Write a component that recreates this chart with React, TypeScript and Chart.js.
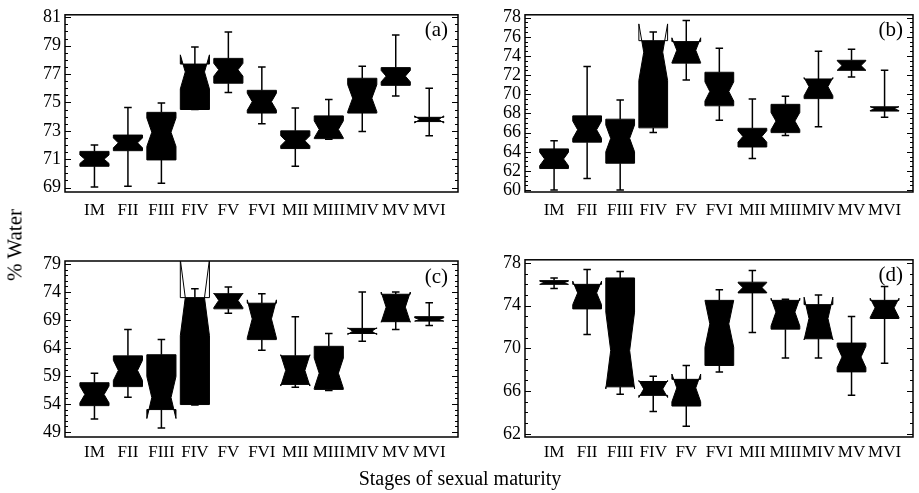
import React, { useEffect, useRef } from 'react';
import { Chart, registerables } from 'chart.js';

Chart.register(...registerables);

const FONT = "'Liberation Serif', 'DejaVu Serif', serif";

const categories = ['IM', 'FII', 'FIII', 'FIV', 'FV', 'FVI', 'MII', 'MIII', 'MIV', 'MV', 'MVI'];

// Panel (a)
const aWhiskerLow = [69.05, 69.1, 69.3, 74.5, 75.7, 73.5, 70.5, 72.4, 72.95, 75.45, 72.65];
const aQ1 = [70.5, 71.6, 70.95, 74.5, 76.35, 74.25, 71.75, 72.45, 74.25, 76.2, 73.65];
const aMedian = [71.0, 72.15, 72.9, 77.15, 77.3, 75.05, 72.3, 73.1, 75.3, 76.85, 73.8];
const aQ3 = [71.55, 72.7, 74.3, 77.7, 78.1, 75.85, 73.0, 74.05, 76.7, 77.45, 73.95];
const aWhiskerHigh = [72.0, 74.65, 74.95, 78.9, 79.95, 77.5, 74.6, 75.2, 77.55, 79.75, 76.0];
const aNotch = [0.3, 0.35, 1.0, 1.2, 0.45, 0.6, 0.35, 0.6, 0.95, 0.4, 0.25];
const aTicks = [69, 71, 73, 75, 77, 79, 81];

// Panel (b)
const bWhiskerLow = [60.0, 61.2, 60.0, 66.0, 71.5, 67.3, 63.3, 65.7, 66.6, 71.8, 67.6];
const bQ1 = [62.25, 65.0, 62.8, 66.5, 73.25, 68.8, 64.5, 66.0, 69.55, 72.5, 68.25];
const bMedian = [63.25, 66.3, 65.4, 74.4, 74.6, 70.3, 65.6, 67.2, 70.8, 73.0, 68.5];
const bQ3 = [64.3, 67.75, 67.4, 75.6, 75.5, 72.3, 66.45, 68.95, 71.6, 73.55, 68.7];
const bWhiskerHigh = [65.15, 72.9, 69.4, 76.5, 77.7, 74.8, 69.5, 69.8, 74.5, 74.7, 72.5];
const bNotch = [0.7, 0.9, 1.4, 2.95, 1.3, 1.0, 0.6, 0.9, 0.95, 0.5, 0.2];
const bTicks = [60, 62, 64, 66, 68, 70, 72, 74, 76, 78];

// Panel (c)
const cWhiskerLow = [51.3, 55.2, 49.7, 53.8, 70.2, 63.6, 57.0, 56.4, 65.2, 67.3, 68.0];
const cQ1 = [53.7, 57.1, 53.0, 53.9, 71.0, 65.5, 57.5, 56.6, 66.6, 68.7, 68.8];
const cMedian = [55.7, 60.0, 55.15, 73.0, 72.5, 69.2, 60.0, 59.5, 67.0, 71.3, 69.1];
const cQ3 = [57.8, 62.6, 62.8, 73.0, 73.7, 72.0, 62.6, 64.3, 67.5, 73.6, 69.6];
const cWhiskerHigh = [59.5, 67.3, 65.5, 74.6, 74.9, 73.7, 69.6, 66.6, 74.0, 74.0, 72.1];
const cNotch = [1.5, 1.8, 3.75, 6.8, 1.3, 3.4, 2.8, 2.7, 0.6, 2.7, 0.3];
const cTicks = [49, 54, 59, 64, 69, 74, 79];

// Panel (d)
const dWhiskerLow = [75.6, 71.3, 65.7, 64.1, 62.7, 67.8, 71.5, 69.1, 69.1, 65.6, 68.6];
const dQ1 = [76.0, 73.7, 66.4, 65.6, 64.6, 68.4, 75.2, 71.8, 70.9, 67.8, 72.8];
const dMedian = [76.15, 75.2, 69.8, 66.2, 66.3, 72.3, 75.7, 73.4, 72.8, 69.2, 73.8];
const dQ3 = [76.35, 76.0, 76.6, 66.9, 67.1, 74.5, 76.2, 74.5, 74.1, 70.5, 74.5];
const dWhiskerHigh = [76.6, 77.4, 77.2, 67.4, 68.4, 75.5, 77.3, 74.6, 75.0, 73.0, 75.8];
const dNotch = [0.15, 1.1, 3.6, 0.8, 1.3, 2.2, 0.45, 1.3, 2.0, 1.0, 0.9];
const dTicks = [62, 66, 70, 74, 78];

type Panel = {
  label: string;
  wl: number[]; q1: number[]; med: number[]; q3: number[]; wh: number[]; notch: number[];
  majors: number[]; minorStep: number; min: number; max: number;
  left: number; top: number; width: number; height: number;
  padTop: number; padRight: number; yWidth: number; xPad: number;
};

const panels: Panel[] = [
  { label: '(a)', wl: aWhiskerLow, q1: aQ1, med: aMedian, q3: aQ3, wh: aWhiskerHigh, notch: aNotch,
    majors: aTicks, minorStep: 0.5, min: 68.69, max: 81.17,
    left: 0, top: 0, width: 459, height: 240, padTop: 12, padRight: 1, yWidth: 65, xPad: 8 },
  { label: '(b)', wl: bWhiskerLow, q1: bQ1, med: bMedian, q3: bQ3, wh: bWhiskerHigh, notch: bNotch,
    majors: bTicks, minorStep: 0.5, min: 59.8, max: 78.3,
    left: 459, top: 0, width: 460, height: 240, padTop: 12, padRight: 6, yWidth: 66, xPad: 8 },
  { label: '(c)', wl: cWhiskerLow, q1: cQ1, med: cMedian, q3: cQ3, wh: cWhiskerHigh, notch: cNotch,
    majors: cTicks, minorStep: 1, min: 48.1, max: 79.54,
    left: 0, top: 245, width: 459, height: 240, padTop: 16, padRight: 1, yWidth: 65, xPad: 5 },
  { label: '(d)', wl: dWhiskerLow, q1: dQ1, med: dMedian, q3: dQ3, wh: dWhiskerHigh, notch: dNotch,
    majors: dTicks, minorStep: 1, min: 61.7, max: 78.3,
    left: 459, top: 245, width: 460, height: 240, padTop: 14, padRight: 6, yWidth: 66, xPad: 5 },
];

function tickValues(p: Panel): number[] {
  const out: number[] = [];
  const start = Math.ceil(p.min / p.minorStep - 1e-9);
  const end = Math.floor(p.max / p.minorStep + 1e-9);
  for (let k = start; k <= end; k++) out.push(Math.round(k * p.minorStep * 1000) / 1000);
  return out;
}

const notchedBoxPlugin = {
  id: 'notchedBox',
  afterDatasetsDraw(chart: any, _args: any, opts: any) {
    const p: Panel = opts.panel;
    if (!p) return;
    const xs = chart.scales.x;
    const ys = chart.scales.y;
    const ctx: CanvasRenderingContext2D = chart.ctx;
    const area = chart.chartArea;
    const step = xs.getPixelForValue(1) - xs.getPixelForValue(0);
    const bw = step * 0.87;
    const hw = bw / 2;
    const ind = bw * 0.17;
    const capHalf = bw * 0.13;

    ctx.save();
    ctx.beginPath();
    ctx.rect(area.left, area.top, area.right - area.left, area.bottom - area.top);
    ctx.clip();
    ctx.fillStyle = '#000';
    ctx.strokeStyle = '#000';
    for (let i = 0; i < categories.length; i++) {
      const xc = xs.getPixelForValue(i);
      const yWl = ys.getPixelForValue(p.wl[i]);
      const yWh = ys.getPixelForValue(p.wh[i]);
      const yQ1 = ys.getPixelForValue(p.q1[i]);
      const yQ3 = ys.getPixelForValue(p.q3[i]);
      const yMed = ys.getPixelForValue(p.med[i]);
      const yNlo = ys.getPixelForValue(p.med[i] - p.notch[i]);
      const yNhi = ys.getPixelForValue(p.med[i] + p.notch[i]);

      // whiskers
      ctx.lineWidth = 1.5;
      ctx.beginPath();
      ctx.moveTo(xc, yWh); ctx.lineTo(xc, yQ3);
      ctx.moveTo(xc, yQ1); ctx.lineTo(xc, yWl);
      ctx.moveTo(xc - capHalf, yWh); ctx.lineTo(xc + capHalf, yWh);
      ctx.moveTo(xc - capHalf, yWl); ctx.lineTo(xc + capHalf, yWl);
      ctx.stroke();

      const L = xc - hw, R = xc + hw;
      const path = new Path2D();
      path.moveTo(L, yQ1);
      path.lineTo(L, yNlo);
      path.lineTo(L + ind, yMed);
      path.lineTo(L, yNhi);
      path.lineTo(L, yQ3);
      path.lineTo(R, yQ3);
      path.lineTo(R, yNhi);
      path.lineTo(R - ind, yMed);
      path.lineTo(R, yNlo);
      path.lineTo(R, yQ1);
      path.closePath();

      // short horns are filled, long ones only outlined
      const hornTop = yQ3 - yNhi;
      const hornBottom = yNlo - yQ1;
      const extraTop = hornTop > 0 && hornTop < 12 ? hornTop : 0;
      const extraBottom = hornBottom > 0 && hornBottom < 12 ? hornBottom : 0;
      ctx.save();
      ctx.beginPath();
      ctx.rect(L - 1, yQ3 - extraTop, bw + 2, yQ1 - yQ3 + extraTop + extraBottom);
      ctx.clip();
      ctx.fill(path);
      ctx.restore();
      ctx.lineWidth = 1;
      ctx.stroke(path);
    }
    ctx.restore();

    // frame
    ctx.save();
    ctx.strokeStyle = '#000';
    ctx.lineWidth = 1.5;
    ctx.strokeRect(area.left, area.top, area.right - area.left, area.bottom - area.top);
    // inside ticks left and right
    ctx.lineWidth = 1;
    ctx.beginPath();
    for (const v of tickValues(p)) {
      const y = Math.round(ys.getPixelForValue(v)) + 0.5;
      const isMajor = p.majors.some((m) => Math.abs(m - v) < 1e-6);
      const len = isMajor ? 6 : 3;
      ctx.moveTo(area.left, y); ctx.lineTo(area.left + len, y);
      ctx.moveTo(area.right, y); ctx.lineTo(area.right - len, y);
    }
    ctx.stroke();
    // panel label
    ctx.fillStyle = '#000';
    ctx.font = `21px ${FONT}`;
    ctx.textAlign = 'right';
    ctx.textBaseline = 'middle';
    ctx.fillText(p.label, area.right - 10, area.top + 16);
    ctx.restore();
  },
};

function BoxPanel({ p }: { p: Panel }) {
  const ref = useRef<HTMLCanvasElement>(null);
  useEffect(() => {
    if (!ref.current) return;
    const ticks = tickValues(p);
    const chart = new Chart(ref.current, {
      type: 'scatter',
      data: {
        datasets: [
          {
            label: p.label,
            data: categories.map((_, i) => ({ x: i, y: p.med[i] })),
            pointRadius: 0,
            pointHoverRadius: 0,
            showLine: false,
          },
        ],
      },
      options: {
        responsive: false,
        animation: false,
        devicePixelRatio: 1,
        events: [],
        layout: { padding: { top: p.padTop, right: p.padRight, left: 0, bottom: 0 } },
        plugins: {
          legend: { display: false },
          tooltip: { enabled: false },
          notchedBox: { panel: p },
        } as any,
        scales: {
          x: {
            type: 'linear',
            min: -0.88,
            max: 10.86,
            grid: { display: false, drawTicks: false },
            border: { display: false },
            afterBuildTicks: (s: any) => {
              s.ticks = categories.map((_, i) => ({ value: i }));
            },
            afterFit: (s: any) => {
              s.height = 48;
            },
            ticks: {
              autoSkip: false,
              maxRotation: 0,
              padding: p.xPad,
              color: '#000',
              font: { family: FONT, size: 17 },
              callback: (v: any) => categories[Math.round(Number(v))] ?? '',
            },
          },
          y: {
            type: 'linear',
            min: p.min,
            max: p.max,
            grid: { display: false, drawTicks: false },
            border: { display: false },
            afterBuildTicks: (s: any) => {
              s.ticks = ticks.map((v) => ({ value: v }));
            },
            afterFit: (s: any) => {
              s.width = p.yWidth;
            },
            ticks: {
              autoSkip: false,
              padding: 4,
              color: '#000',
              font: { family: FONT, size: 18 },
              callback: (v: any) => (p.majors.some((m) => Math.abs(m - Number(v)) < 1e-6) ? String(Math.round(Number(v))) : ''),
            },
          },
        },
      },
      plugins: [notchedBoxPlugin as any],
    });
    return () => chart.destroy();
  }, [p]);
  return (
    <canvas
      ref={ref}
      width={p.width}
      height={p.height}
      style={{ position: 'absolute', left: p.left, top: p.top, width: p.width, height: p.height }}
    />
  );
}

export default function App() {
  return (
    <div style={{ position: 'fixed', left: 0, top: 0, width: 919, height: 493, background: '#fff', overflow: 'hidden' }}>
      {panels.map((p) => (
        <BoxPanel key={p.label} p={p} />
      ))}
      <div
        style={{
          position: 'absolute', left: 15, top: 245, transform: 'translate(-50%, -50%) rotate(-90deg)',
          fontFamily: FONT, fontSize: 21, color: '#000', whiteSpace: 'nowrap',
        }}
      >
        % Water
      </div>
      <div
        style={{
          position: 'absolute', left: 460, top: 478, transform: 'translate(-50%, -50%)',
          fontFamily: FONT, fontSize: 20, color: '#000', whiteSpace: 'nowrap',
        }}
      >
        Stages of sexual maturity
      </div>
    </div>
  );
}
